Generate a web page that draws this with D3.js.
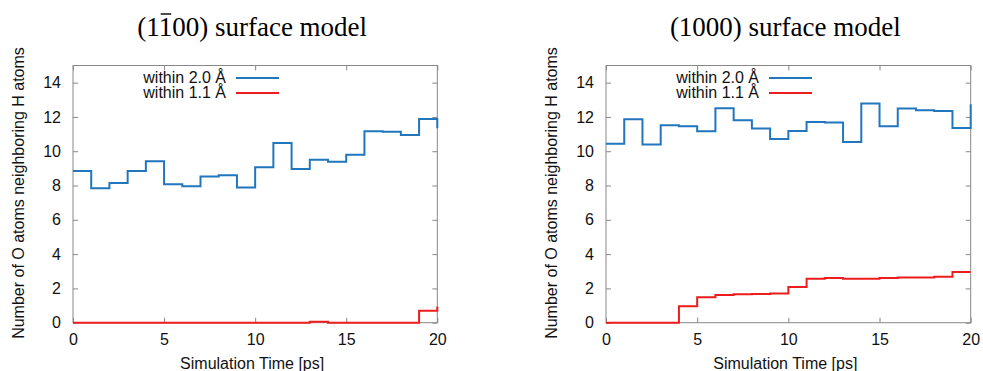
<!DOCTYPE html>
<html>
<head>
<meta charset="utf-8">
<script src="https://cdn.jsdelivr.net/npm/d3@7/dist/d3.min.js"></script>
<style>
  body { margin: 0; background: #fff; }
  svg { display: block; }
  .tick text { font-family: "Liberation Sans", Arial, sans-serif; }
</style>
</head>
<body>
<svg id="chart" width="983" height="371"></svg>
<script>
// simulation time, ps (one sample per ps, drawn as steps)
const times = [0, 1, 2, 3, 4, 5, 6, 7, 8, 9, 10, 11, 12, 13, 14, 15, 16, 17, 18, 19, 20];

// (1-100) surface model
const left20 = [8.85, 7.84, 8.15, 8.85, 9.42, 8.07, 7.96, 8.52, 8.6, 7.88, 9.07,
  10.48, 8.97, 9.51, 9.38, 9.8, 11.17, 11.13, 10.95, 11.88, 11.34];
const left11 = [0, 0, 0, 0, 0, 0, 0, 0, 0, 0, 0, 0, 0, 0.05, 0, 0, 0, 0, 0, 0.7, 0.95];

// (1000) surface model
const right20 = [10.43, 11.87, 10.39, 11.52, 11.46, 11.17, 12.51, 11.81, 11.32, 10.72, 11.18,
  11.71, 11.67, 10.54, 12.78, 11.46, 12.49, 12.39, 12.35, 11.36, 12.74];
const right11 = [0, 0, 0, 0, 0.96, 1.48, 1.62, 1.66, 1.67, 1.71, 2.08,
  2.57, 2.6, 2.57, 2.57, 2.6, 2.63, 2.64, 2.68, 2.96, 2.96];

const xTicks = [0, 5, 10, 15, 20];
const yTicks = [0, 2, 4, 6, 8, 10, 12, 14];
const seriesNames = ['within 2.0 Å', 'within 1.1 Å'];
const seriesColors = ['#2176bd', '#ee1c1c'];

const svg = d3.select('#chart');
const sans = '"Liberation Sans", Arial, sans-serif';
const frameColor = '#888';
const fs = 16;

function drawPanel(x0, x1, titleText, barIndex, s20, s11) {
  const x = d3.scaleLinear().domain([0, 20]).range([x0, x1]);
  const y = d3.scaleLinear().domain([0, 15]).range([322.7, 65.5]);
  const g = svg.append('g');

  // title (Times-like)
  const t = g.append('text')
    .attr('x', (x0 + x1) / 2 - 3).attr('y', 36)
    .attr('text-anchor', 'middle')
    .attr('font-family', '"Liberation Serif", "Times New Roman", serif')
    .attr('font-size', 27)
    .attr('fill', '#000')
    .text(titleText);
  if (barIndex >= 0) {
    const node = t.node();
    const a = node.getStartPositionOfChar(barIndex);
    const b = node.getEndPositionOfChar(barIndex);
    g.append('line')
      .attr('x1', a.x + 2).attr('x2', b.x - 1)
      .attr('y1', 14).attr('y2', 14)
      .attr('stroke', '#000').attr('stroke-width', 1.4);
  }

  // frame
  g.append('rect')
    .attr('x', x0).attr('y', y(15))
    .attr('width', x1 - x0).attr('height', y(0) - y(15))
    .attr('fill', 'none').attr('stroke', frameColor).attr('stroke-width', 1);

  // axes, ticks pointing inward
  const bottom = g.append('g').attr('transform', `translate(0,${y(0)})`)
    .call(d3.axisBottom(x).tickValues(xTicks).tickSizeInner(-5).tickSizeOuter(0).tickPadding(11));
  g.append('g').attr('transform', `translate(0,${y(15)})`)
    .call(d3.axisTop(x).tickValues(xTicks).tickSizeInner(-5).tickSizeOuter(0).tickFormat(''));
  g.append('g').attr('transform', `translate(${x0},0)`)
    .call(d3.axisLeft(y).tickValues(yTicks).tickSizeInner(-5).tickSizeOuter(0).tickPadding(12));
  g.append('g').attr('transform', `translate(${x1},0)`)
    .call(d3.axisRight(y).tickValues(yTicks).tickSizeInner(-5).tickSizeOuter(0).tickFormat(''));
  g.selectAll('.domain').remove();
  g.selectAll('.tick line').attr('stroke', frameColor);
  g.selectAll('.tick text').attr('font-size', fs).attr('fill', '#111').attr('font-family', sans);
  bottom.selectAll('.tick text').attr('dy', '0.71em');

  // axis titles
  g.append('text')
    .attr('x', (x0 + x1) / 2 - 3).attr('y', 369)
    .attr('text-anchor', 'middle')
    .attr('font-family', sans).attr('font-size', fs).attr('fill', '#111')
    .text('Simulation Time [ps]');
  g.append('text')
    .attr('transform', `translate(${x0 - 49},${193}) rotate(-90)`)
    .attr('text-anchor', 'middle')
    .attr('font-family', sans).attr('font-size', fs).attr('fill', '#111')
    .text('Number of O atoms neighboring H atoms');

  // step lines
  const line = d3.line()
    .x((d, i) => x(times[i]))
    .y(d => y(d))
    .curve(d3.curveStepAfter);
  [s11, s20].forEach((s, k) => {
    g.append('path')
      .datum(s)
      .attr('d', line)
      .attr('fill', 'none')
      .attr('stroke', seriesColors[1 - k])
      .attr('stroke-width', 2);
  });

  // legend
  seriesNames.forEach((name, i) => {
    const ly = 78 + i * 15;
    g.append('text')
      .attr('x', x0 + 153).attr('y', ly + 5)
      .attr('text-anchor', 'end')
      .attr('font-family', sans).attr('font-size', fs).attr('fill', '#111')
      .text(name);
    g.append('line')
      .attr('x1', x0 + 163).attr('x2', x0 + 206)
      .attr('y1', ly).attr('y2', ly)
      .attr('stroke', seriesColors[i]).attr('stroke-width', 2);
  });
}

drawPanel(73, 437.3, '(1100) surface model', 2, left20, left11);
drawPanel(606, 970.7, '(1000) surface model', -1, right20, right11);
</script>
</body>
</html>
